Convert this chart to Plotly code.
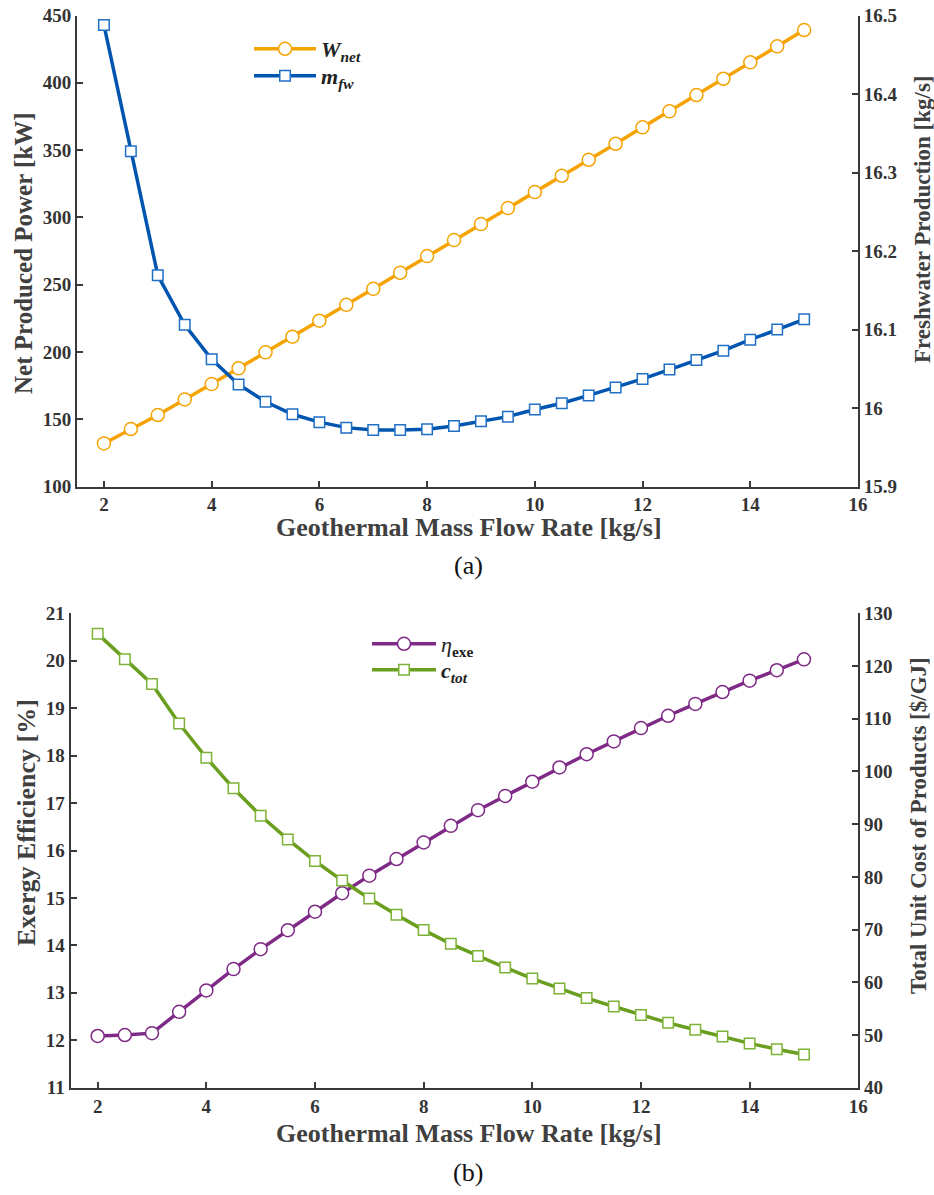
import plotly.graph_objects as go

# ---------------- data ----------------
flow = [2, 2.5, 3, 3.5, 4, 4.5, 5, 5.5, 6, 6.5, 7, 7.5, 8, 8.5, 9, 9.5,
        10, 10.5, 11, 11.5, 12, 12.5, 13, 13.5, 14, 14.5, 15]

w_net = [132.0, 142.7, 153.1, 164.7, 176.1, 187.8, 199.7, 211.3, 223.2, 235.0,
         246.9, 258.8, 271.2, 283.1, 295.0, 306.9, 318.8, 330.9, 342.8, 354.7,
         366.9, 378.8, 390.9, 403.0, 415.2, 427.1, 439.2]

m_fw = [16.488, 16.327, 16.169, 16.106, 16.062, 16.030, 16.008, 15.992, 15.982,
        15.975, 15.972, 15.972, 15.973, 15.977, 15.983, 15.989, 15.998, 16.006,
        16.016, 16.026, 16.037, 16.049, 16.061, 16.073, 16.087, 16.100, 16.113]

eta_exe = [12.09, 12.11, 12.15, 12.60, 13.05, 13.50, 13.92, 14.32, 14.71, 15.10,
           15.47, 15.82, 16.17, 16.52, 16.85, 17.15, 17.45, 17.75, 18.03, 18.30,
           18.58, 18.84, 19.09, 19.34, 19.58, 19.80, 20.03]

c_tot = [126.1, 121.3, 116.6, 109.1, 102.6, 96.8, 91.6, 87.1, 83.0, 79.3,
         75.9, 72.8, 69.9, 67.3, 65.0, 62.8, 60.7, 58.8, 57.0, 55.4,
         53.8, 52.3, 51.0, 49.7, 48.4, 47.3, 46.3]

x_ticks = [2, 4, 6, 8, 10, 12, 14, 16]

# ---------------- style ----------------
W, H = 934, 1195
FONT = "Liberation Serif, Times New Roman, Times, serif"
AX = "#3a3a3a"
TXT = "#333333"
C_ORANGE = "#F5A300"
C_BLUE = "#0055B0"
C_PURPLE = "#7E2A86"
C_GREEN = "#6A9E1E"

def px_x(p):
    return p / W

def px_y(p):
    return 1 - p / H

tickfont = dict(family=FONT, size=19, color=TXT, weight="bold")

fig = go.Figure()

# panel (a)
fig.add_trace(go.Scatter(
    x=flow, y=w_net, mode="lines+markers",
    name="<i><b>W</b></i><sub><i><b>net</b></i></sub>",
    line=dict(color=C_ORANGE, width=3.5),
    marker=dict(symbol="circle", size=13, color="white", line=dict(color=C_ORANGE, width=1.5)),
    xaxis="x", yaxis="y", legend="legend"))
fig.add_trace(go.Scatter(
    x=flow, y=m_fw, mode="lines+markers",
    name="<i><b>m</b></i><sub><i><b>fw</b></i></sub>",
    line=dict(color=C_BLUE, width=3.5),
    marker=dict(symbol="square", size=10.5, color="white", line=dict(color="#1F6FC5", width=1.5)),
    xaxis="x", yaxis="y2", legend="legend2"))

# panel (b)
fig.add_trace(go.Scatter(
    x=flow, y=eta_exe, mode="lines+markers",
    name="<i>η</i><sub><b>exe</b></sub>",
    line=dict(color=C_PURPLE, width=3.5),
    marker=dict(symbol="circle", size=13, color="white", line=dict(color=C_PURPLE, width=1.5)),
    xaxis="x2", yaxis="y3", legend="legend3"))
fig.add_trace(go.Scatter(
    x=flow, y=c_tot, mode="lines+markers",
    name="<i><b>c</b></i><sub><i><b>tot</b></i></sub>",
    line=dict(color=C_GREEN, width=3.5),
    marker=dict(symbol="square", size=10.5, color="white", line=dict(color="#7DB236", width=1.5)),
    xaxis="x2", yaxis="y4", legend="legend4"))

common_axis = dict(showline=True, linecolor=AX, linewidth=2, ticks="inside", ticklen=6,
                   tickwidth=1.5, tickcolor=AX, showgrid=False, zeroline=False,
                   tickfont=tickfont, mirror=False, automargin=False)

leg_font = dict(family=FONT, size=22, color="#222222")

def legend_at(xpx, ypx, iw):
    return dict(x=px_x(xpx), y=px_y(ypx), xanchor="left", yanchor="middle",
                bgcolor="rgba(0,0,0,0)", borderwidth=0, itemwidth=iw, font=leg_font)

fig.update_layout(
    width=W, height=H,
    margin=dict(l=0, r=0, t=0, b=0, autoexpand=False),
    paper_bgcolor="white", plot_bgcolor="white",
    showlegend=True,
    xaxis=dict(domain=[px_x(77), px_x(858)], range=[1.5, 16], tickvals=x_ticks,
               anchor="y", **common_axis),
    yaxis=dict(domain=[px_y(486.5), px_y(15.5)], range=[100, 450], dtick=50,
               anchor="x", **common_axis),
    yaxis2=dict(range=[15.9, 16.5], dtick=0.1, overlaying="y", side="right",
                anchor="x", **common_axis),
    xaxis2=dict(domain=[px_x(70.5), px_x(858.3)], range=[1.5, 16], tickvals=x_ticks,
                anchor="y3", **common_axis),
    yaxis3=dict(domain=[px_y(1087.7), px_y(613.3)], range=[11, 21], dtick=1,
                anchor="x2", **common_axis),
    yaxis4=dict(range=[40, 130], dtick=10, overlaying="y3", side="right",
                anchor="x2", **common_axis),
    legend=legend_at(249, 49, 62),
    legend2=legend_at(249, 76, 62),
    legend3=legend_at(367, 644, 64),
    legend4=legend_at(367, 670, 64),
)

title_font = dict(family=FONT, size=26, color="#404040", weight="bold")
ltitle_font = dict(family=FONT, size=25, color="#404040", weight="bold")
rtitle_font = dict(family=FONT, size=23, color="#404040", weight="bold")
cap_font = dict(family=FONT, size=26, color="#111111")

annots = [
    dict(text="Net Produced Power [kW]", x=px_x(23), y=px_y(253), textangle=-90, font=ltitle_font),
    dict(text="Freshwater Production [kg/s]", x=px_x(922), y=px_y(219), textangle=-90, font=rtitle_font),
    dict(text="Geothermal Mass Flow Rate [kg/s]", x=px_x(469), y=px_y(527), font=title_font),
    dict(text="(a)", x=px_x(468), y=px_y(565), font=cap_font),
    dict(text="Exergy Efficiency [%]", x=px_x(26), y=px_y(823), textangle=-90, font=title_font),
    dict(text="Total Unit Cost of Products [$/GJ]", x=px_x(918), y=px_y(826), textangle=-90, font=rtitle_font),
    dict(text="Geothermal Mass Flow Rate [kg/s]", x=px_x(469), y=px_y(1133), font=title_font),
    dict(text="(b)", x=px_x(468), y=px_y(1172), font=cap_font),
]
for a in annots:
    fig.add_annotation(xref="paper", yref="paper", showarrow=False,
                       xanchor="center", yanchor="middle", **a)

fig.write_html(
    "out.html",
    config={"displayModeBar": False},
    post_script="document.documentElement.style.margin='0';document.body.style.margin='0';"
                "document.body.style.padding='0';document.body.style.overflow='hidden';",
)
